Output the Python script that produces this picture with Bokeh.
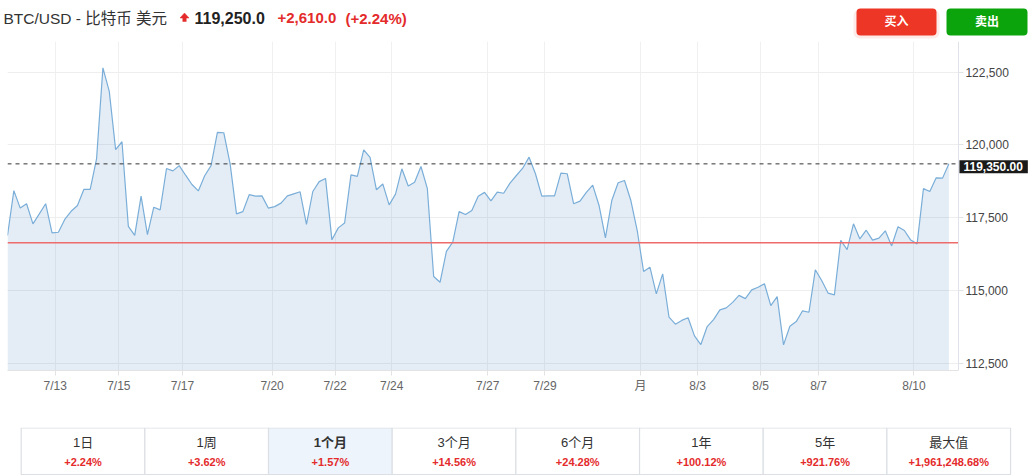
from bokeh.plotting import figure
from bokeh.models import Range1d, FixedTicker, NumeralTickFormatter, Label, BoxAnnotation
from bokeh.layouts import column
from bokeh.core.properties import value
from bokeh.embed import file_html
from bokeh.resources import INLINE

# ---------------- data ----------------
prices = [
    116890, 118430, 117830, 117980, 117290, 117630, 117980, 116980, 117000, 117440,
    117720, 117920, 118470, 118470, 119520, 122650, 121840, 119840, 120110, 117200,
    116890, 118240, 116920, 117860, 117770, 119190, 119110, 119290, 118960, 118640,
    118420, 118940, 119290, 120430, 120420, 119350, 117630, 117710, 118290, 118240,
    118250, 117830, 117880, 118000, 118250, 118320, 118390, 117270, 118400, 118740,
    118850,
    116740, 117150, 117320, 118970, 118920, 119830, 119570, 118460, 118660, 117940,
    118310, 119180, 118590, 118720, 119260, 118510, 115480, 115280, 116340, 116660,
    117710, 117610, 117750, 118240, 118370, 118080, 118380, 118340, 118690, 118950,
    119200, 119580, 119010, 118240, 118250, 118250, 119030, 119010, 117980, 118070,
    118370, 118620, 117920, 116810, 118090, 118700, 118780, 118090, 117060, 115650,
    115800, 114880,
    115570, 114080, 113840, 113970, 114060, 113440, 113140, 113760, 114000, 114330,
    114400, 114590, 114830, 114720, 115020, 115110, 115230, 114480, 114790, 113130,
    113770, 113930, 114300, 114250, 115710, 115340, 114910, 114850, 116720, 116400,
    117290, 116770, 117070, 116730, 116800, 117050, 116530, 117190, 117060, 116730,
    116600, 118500, 118400, 118870, 118860, 119350,
]
tick_pos = [7.5, 17.5, 27.5, 41.6, 51.5, 60.4, 75.5, 84.5, 99.5, 108.5, 118.4, 127.5, 142.5]
tick_labels = ["7/13", "7/15", "7/17", "7/20", "7/22", "7/24", "7/27", "7/29", "月",
               "8/3", "8/5", "8/7", "8/10"]
y_ticks = [112500, 115000, 117500, 120000, 122500]
prev_close = 116640
last_line = 119350
last_label = "119,350.00"

title = "BTC/USD - 比特币 美元"
price_text = "119,250.0"
change_text = "+2,610.0"
pct_text = "(+2.24%)"
buy_text = "买入"
sell_text = "卖出"

tab_labels = ["1日", "1周", "1个月", "3个月", "6个月", "1年", "5年", "最大值"]
tab_changes = ["+2.24%", "+3.62%", "+1.57%", "+14.56%", "+24.28%", "+100.12%",
               "+921.76%", "+1,961,248.68%"]
selected_tab = 2

# ---------------- style ----------------
FONT = "Liberation Sans, Noto Sans CJK SC"
RED = "#e42b2b"
W = 1033

# ---------------- header ----------------
HH = 40
h = figure(width=W, height=HH, x_range=Range1d(0, W), y_range=Range1d(HH, 0),
           toolbar_location=None, output_backend="svg", x_axis_type=None, y_axis_type=None,
           min_border=0, outline_line_color=None, frame_align=False)
h.grid.visible = False

h.text(x=[3], y=[17.5], text=[title], text_font=value(FONT), text_font_size=value("15.5px"),
       text_color="#333333", text_baseline="middle", text_align="left")
h.patch(x=[179.5, 184, 188.5], y=[17.5, 12.5, 17.5], fill_color=RED, line_color=RED, line_width=0.5)
h.quad(left=[182], right=[186], top=[17.5], bottom=[21.2], fill_color=RED, line_color=None)
h.text(x=[194], y=[17.5], text=[price_text], text_font=value(FONT), text_font_size=value("16px"),
       text_font_style="bold", text_color="#222222", text_baseline="middle", text_align="left")
h.text(x=[277], y=[17.5], text=[change_text], text_font=value(FONT), text_font_size=value("15px"),
       text_font_style="bold", text_color=RED, text_baseline="middle", text_align="left")
h.text(x=[345], y=[17.5], text=[pct_text], text_font=value(FONT), text_font_size=value("15px"),
       text_font_style="bold", text_color=RED, text_baseline="middle", text_align="left")

h.add_layout(BoxAnnotation(left=853, right=939, top=9, bottom=38, fill_color="#ee3626",
                           fill_alpha=0.10, line_color=None, border_radius=6, level="underlay"))
h.add_layout(BoxAnnotation(left=856, right=936, top=8, bottom=35, fill_color="#ee3626",
                           fill_alpha=1, line_color=None, border_radius=4, level="underlay"))
h.add_layout(BoxAnnotation(left=946, right=1027, top=8, bottom=35, fill_color="#0ca40c",
                           fill_alpha=1, line_color=None, border_radius=4, level="underlay"))
h.text(x=[896, 986.5], y=[21.5, 21.5], text=[buy_text, sell_text], text_font=value(FONT),
       text_font_size=value("12px"), text_font_style="bold", text_color="white",
       text_baseline="middle", text_align="center")

# ---------------- main chart ----------------
idx = list(range(len(prices)))
y0, y1 = 112249, 123555
x_end_data = 149.5      # where the price axis sits
x_end_view = 161.3      # frame extends under the price-axis labels
p = figure(width=W, height=387, x_range=Range1d(0, x_end_view), y_range=Range1d(y0, y1),
           toolbar_location=None, output_backend="svg", y_axis_location="right",
           min_border_left=7, min_border_right=0, min_border_top=1, min_border_bottom=57,
           outline_line_color=None, frame_align=False)

# keep the area right of the price axis free of grid lines
p.add_layout(BoxAnnotation(left=x_end_data, fill_color="white", fill_alpha=1,
                           line_color=None, level="underlay"))

p.varea(x=idx, y1=[y0] * len(idx), y2=prices, fill_color="#4a86c0", fill_alpha=0.15)
p.line(idx, prices, line_color="#7aaed8", line_width=1.2)

p.segment(x0=[0], x1=[x_end_data], y0=[prev_close], y1=[prev_close],
          line_color="#ee6b6b", line_width=1.5)
p.segment(x0=[0], x1=[x_end_data], y0=[last_line], y1=[last_line],
          line_color="#333333", line_dash="4 4", line_width=1)

lab = Label(x=x_end_data, y=last_line, x_offset=1, y_offset=-3, text=last_label,
            text_color="white", text_font=FONT, text_font_size="12px",
            text_font_style="bold", text_baseline="middle", text_align="left",
            background_fill_color="#1a1a1a")
try:
    lab.padding = dict(left=4, right=5, top=2, bottom=2)
except Exception:
    lab.padding = 2
p.add_layout(lab)

p.xaxis.ticker = FixedTicker(ticks=tick_pos)
p.xaxis.major_label_overrides = {t: l for t, l in zip(tick_pos, tick_labels)}
p.xaxis.bounds = (0, x_end_data)
p.yaxis.ticker = FixedTicker(ticks=y_ticks)
p.yaxis.formatter = NumeralTickFormatter(format="0,0")
p.yaxis.fixed_location = x_end_data

p.axis.minor_tick_line_color = None
p.axis.major_tick_in = 0
p.axis.major_label_text_font = FONT
p.axis.major_label_text_font_size = "12px"

p.xaxis.axis_line_color = "#e3e3e3"
p.xaxis.major_tick_line_color = "#e3e3e3"
p.xaxis.major_tick_out = 5
p.xaxis.major_label_standoff = 3
p.xaxis.major_label_text_color = "#666666"

p.yaxis.axis_line_color = "#dfe2e8"
p.yaxis.major_tick_line_color = "#e3e3e3"
p.yaxis.major_tick_out = 5
p.yaxis.major_label_standoff = 2
p.yaxis.major_label_text_color = "#444444"

p.xgrid.grid_line_color = "#f0f0f0"
p.ygrid.grid_line_color = "#eeeeee"

# ---------------- period tabs ----------------
TH = 49
t = figure(width=W, height=TH, x_range=Range1d(0, W), y_range=Range1d(TH, 0),
           toolbar_location=None, output_backend="svg", x_axis_type=None, y_axis_type=None,
           min_border=0, outline_line_color=None, frame_align=False)
t.grid.visible = False
cw = 123.67
lefts = [20.7 + k * cw for k in range(len(tab_labels))]
rights = [l + cw for l in lefts]
centers = [l + cw / 2 for l in lefts]
fills = ["#edf4fb" if k == selected_tab else "white" for k in range(len(tab_labels))]
t.quad(left=lefts, right=rights, top=[0.5] * len(lefts), bottom=[47] * len(lefts),
       fill_color=fills, line_color="#dcdfe4", line_width=1.2)
styles = ["bold" if k == selected_tab else "normal" for k in range(len(tab_labels))]
t.text(x=centers, y=[15] * len(centers), text=tab_labels, text_font=value(FONT),
       text_font_size=value("13px"), text_font_style=styles, text_color="#333333",
       text_baseline="middle", text_align="center")
t.text(x=centers, y=[34] * len(centers), text=tab_changes, text_font=value(FONT),
       text_font_size=value("11px"), text_font_style="bold", text_color=RED,
       text_baseline="middle", text_align="center")

layout = column(h, p, t, spacing=0)
open("out.html", "w").write(file_html(layout, INLINE))
